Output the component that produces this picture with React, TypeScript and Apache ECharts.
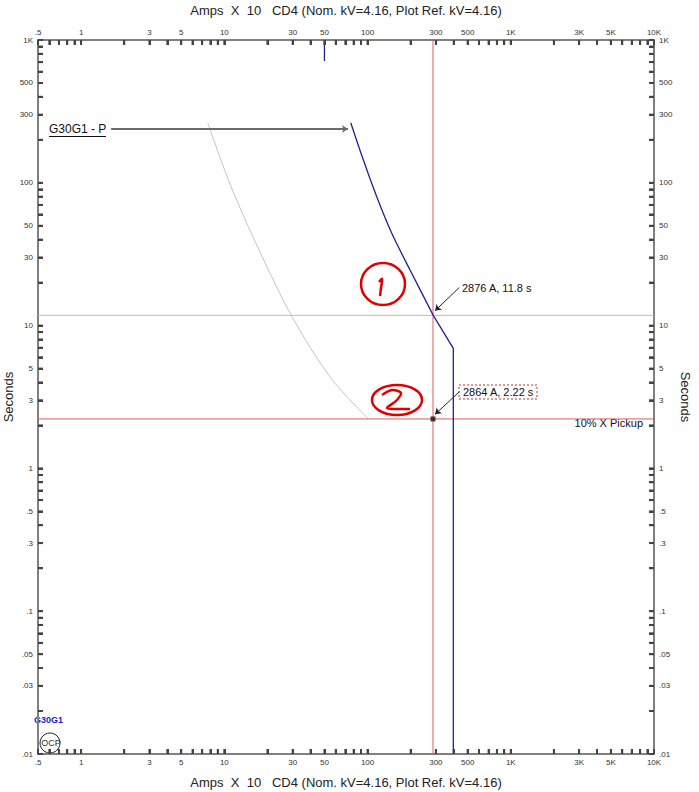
import * as echarts from 'echarts';
import React, { useEffect, useRef } from 'react';

// axis tick labels (amps x 10, seconds)
const X_LABELS = [0.5, 1, 3, 5, 10, 30, 50, 100, 300, 500, 1000, 3000, 5000, 10000];
const Y_LABELS = [0.01, 0.03, 0.05, 0.1, 0.3, 0.5, 1, 3, 5, 10, 30, 50, 100, 300, 500, 1000];
const MANTISSAS = [1, 2, 3, 4, 5, 6, 7, 8, 9];
const X_DECADES = [0.1, 1, 10, 100, 1000, 10000];
const Y_DECADES = [0.01, 0.1, 1, 10, 100, 1000];

// G30G1 - P relay curve (inverse part, then definite/instantaneous tail)
const RELAY_AMPS = [76.3, 93.5, 115.9, 147.6, 198, 287.6];
const RELAY_SECS = [263.6, 144.4, 79.9, 44.3, 24.5, 11.8];
const TAIL_AMPS = [287.6, 397, 397];
const TAIL_SECS = [11.8, 6.93, 0.01];

// short blue mark at the top
const TOP_MARK_AMPS = [50, 50];
const TOP_MARK_SECS = [1000, 713];

// light gray curve
const GRAY_AMPS = [7.66, 10.67, 14.71, 21.4, 28.8, 40.8, 59.3, 101.3];
const GRAY_SECS = [263.6, 104.6, 49.3, 22.0, 12.2, 6.75, 3.94, 2.22];

// cursor lines / point
const CURSOR_AMPS = [286.4, 286.4];
const CURSOR_SECS = [0.01, 1000];
const SPAN_AMPS = [0.5, 10000];
const PICKUP_SECS = [2.22, 2.22];
const OPERATE_SECS = [11.8, 11.8];
const POINT_AMPS = [286.4];
const POINT_SECS = [2.22];

const X_MIN = 0.5;
const X_MAX = 10000;
const Y_MIN = 0.01;
const Y_MAX = 1000;

const ticksFor = (decades: number[], lo: number, hi: number) =>
  decades
    .flatMap((d) => MANTISSAS.map((m) => Number((d * m).toPrecision(6))))
    .filter((v) => v >= lo && v <= hi);

const X_TICKS = ticksFor(X_DECADES, X_MIN, X_MAX);
const Y_TICKS = ticksFor(Y_DECADES, Y_MIN, Y_MAX);

const fmt = (raw: number) => {
  const v = Number(Number(raw).toPrecision(3));
  if (v >= 1000) return v / 1000 + 'K';
  if (v < 1) return String(v).replace(/^0/, '');
  return String(v);
};

const pairs = (xs: number[], ys: number[]) => xs.map((x, i) => [x, ys[i]]);

const FONT = 'Liberation Sans, Arial, sans-serif';
const TITLE = 'Amps  X  10   CD4 (Nom. kV=4.16, Plot Ref. kV=4.16)';
const TICK_COLOR = '#444444';

const App: React.FC = () => {
  const chartRef = useRef<HTMLDivElement>(null);

  useEffect(() => {
    if (!chartRef.current) return;
    const chart = echarts.init(chartRef.current, null, { renderer: 'svg' });

    const xAxis = (position: string, gap: number) => ({
      type: 'log',
      logBase: 10,
      min: X_MIN,
      max: X_MAX,
      position,
      name: TITLE,
      nameLocation: 'middle',
      nameGap: gap,
      nameTextStyle: { fontSize: 13, color: '#222', fontFamily: FONT },
      axisLine: { show: true, lineStyle: { color: '#808080', width: 2 } },
      axisTick: {
        show: true,
        inside: true,
        length: 5,
        customValues: X_TICKS,
        lineStyle: { color: TICK_COLOR, width: 2 },
      },
      axisLabel: {
        customValues: X_LABELS,
        formatter: fmt,
        fontSize: 8,
        color: '#333',
        fontFamily: FONT,
        margin: 4,
      },
      splitLine: { show: false },
      minorTick: { show: false },
    });

    const yAxis = (position: string, rotate: number, gap: number) => ({
      type: 'log',
      logBase: 10,
      min: Y_MIN,
      max: Y_MAX,
      position,
      name: 'Seconds',
      nameLocation: 'middle',
      nameRotate: rotate,
      nameGap: gap,
      nameMoveOverlap: false,
      nameTextStyle: { fontSize: 13, color: '#222', fontFamily: FONT },
      axisLine: { show: true, lineStyle: { color: '#808080', width: 2 } },
      axisTick: {
        show: true,
        inside: true,
        length: 5,
        customValues: Y_TICKS,
        lineStyle: { color: TICK_COLOR, width: 2 },
      },
      axisLabel: {
        customValues: Y_LABELS,
        formatter: fmt,
        fontSize: 8,
        color: '#333',
        fontFamily: FONT,
        margin: 5,
      },
      splitLine: { show: false },
      minorTick: { show: false },
    });

    const red = '#dd5c5c';
    const straight = (name: string, data: number[][], color: string, z = 3) => ({
      type: 'line',
      name,
      data,
      showSymbol: false,
      silent: true,
      lineStyle: { color, width: 1 },
      z,
    });

    // inside tick marks also drawn as small rects through the log scales
    const ticks = (name: string, data: number[][], size: number[], offset: number[]) => ({
      type: 'scatter',
      name,
      data,
      symbol: 'rect',
      symbolSize: size,
      symbolOffset: offset,
      silent: true,
      clip: false,
      itemStyle: { color: TICK_COLOR, opacity: 1 },
      z: 10,
    });

    chart.setOption({
      animation: false,
      backgroundColor: '#fff',
      grid: {
        left: 38,
        top: 40,
        width: 616,
        height: 714,
        containLabel: false,
        outerBoundsMode: 'none',
      },
      xAxis: [xAxis('bottom', 22), xAxis('top', 23)],
      yAxis: [yAxis('left', 90, 23), yAxis('right', -90, 25)],
      series: [
        ticks('x ticks top', X_TICKS.map((v) => [v, Y_MAX]), [2, 5], [0, 2.5]),
        ticks('x ticks bottom', X_TICKS.map((v) => [v, Y_MIN]), [2, 5], [0, -2.5]),
        ticks('y ticks left', Y_TICKS.map((v) => [X_MIN, v]), [5, 2], [2.5, 0]),
        ticks('y ticks right', Y_TICKS.map((v) => [X_MAX, v]), [5, 2], [-2.5, 0]),
        {
          type: 'line',
          name: 'gray',
          data: pairs(GRAY_AMPS, GRAY_SECS),
          showSymbol: false,
          smooth: 0.3,
          lineStyle: { color: '#c4c4c4', width: 1 },
          z: 2,
        },
        straight('operate', pairs(SPAN_AMPS, OPERATE_SECS), '#b8b8b8'),
        straight('pickup', pairs(SPAN_AMPS, PICKUP_SECS), red),
        straight('cursor', pairs(CURSOR_AMPS, CURSOR_SECS), red),
        {
          type: 'line',
          name: 'G30G1 - P',
          data: pairs(RELAY_AMPS, RELAY_SECS),
          showSymbol: false,
          smooth: 0.3,
          lineStyle: { color: '#22228c', width: 1.3 },
          z: 4,
          markLine: {
            silent: true,
            symbol: ['none', 'arrow'],
            symbolSize: 6,
            label: { show: false },
            lineStyle: { color: '#222', width: 1, type: 'solid' },
            data: [
              [{ coord: [437.5, 18.5] }, { coord: [296, 12.7] }],
              [{ coord: [437.5, 3.44] }, { coord: [296, 2.39] }],
              [
                { coord: [1.62, 238], lineStyle: { color: '#6a6a6a', width: 2 } },
                { coord: [73, 238] },
              ],
            ],
          },
        },
        {
          type: 'line',
          name: 'tail',
          data: pairs(TAIL_AMPS, TAIL_SECS),
          showSymbol: false,
          lineStyle: { color: '#22228c', width: 1.3 },
          z: 4,
        },
        {
          type: 'line',
          name: 'top mark',
          data: pairs(TOP_MARK_AMPS, TOP_MARK_SECS),
          showSymbol: false,
          lineStyle: { color: '#22228c', width: 1.3 },
        },
        {
          type: 'scatter',
          name: 'point',
          data: pairs(POINT_AMPS, POINT_SECS),
          symbol: 'rect',
          symbolSize: 5,
          itemStyle: { color: '#111' },
          z: 6,
        },
      ],
      graphic: [
        {
          type: 'text',
          x: 462,
          y: 288,
          style: { text: '2876 A, 11.8 s', font: `11px ${FONT}`, fill: '#111', textVerticalAlign: 'middle' },
        },
        {
          type: 'rect',
          shape: { x: 459, y: 385, width: 78, height: 14 },
          style: { fill: 'none', stroke: '#c03030', lineWidth: 1, lineDash: [2, 2] },
        },
        {
          type: 'text',
          x: 463,
          y: 392,
          style: { text: '2864 A, 2.22 s', font: `11px ${FONT}`, fill: '#111', textVerticalAlign: 'middle' },
        },
        {
          type: 'text',
          x: 643,
          y: 423,
          style: {
            text: '10% X Pickup',
            font: `11px ${FONT}`,
            fill: '#111',
            textAlign: 'right',
            textVerticalAlign: 'middle',
          },
        },
        {
          type: 'text',
          x: 49,
          y: 129,
          style: { text: 'G30G1 - P', font: `12px ${FONT}`, fill: '#111', textVerticalAlign: 'middle' },
        },
        {
          type: 'line',
          shape: { x1: 49, y1: 136.5, x2: 106, y2: 136.5 },
          style: { stroke: '#111', lineWidth: 1 },
        },
        {
          type: 'text',
          x: 34,
          y: 720,
          style: { text: 'G30G1', font: `bold 9px ${FONT}`, fill: '#1a1ad0', textVerticalAlign: 'middle' },
        },
        {
          type: 'circle',
          shape: { cx: 50, cy: 743, r: 10 },
          style: { fill: '#fff', stroke: '#222', lineWidth: 1 },
        },
        {
          type: 'text',
          x: 51,
          y: 743,
          style: {
            text: 'OCP',
            font: `9px ${FONT}`,
            fill: '#333',
            textAlign: 'center',
            textVerticalAlign: 'middle',
          },
        },
        // hand-drawn red marks
        {
          type: 'ellipse',
          shape: { cx: 383, cy: 284, rx: 22, ry: 21 },
          style: { fill: 'none', stroke: '#e00000', lineWidth: 2.5 },
        },
        {
          type: 'polyline',
          shape: { points: [[379, 282], [382, 279], [381, 288], [380, 296]], smooth: 0.4 },
          style: { fill: 'none', stroke: '#e00000', lineWidth: 2.5 },
        },
        {
          type: 'ellipse',
          shape: { cx: 397, cy: 400, rx: 25, ry: 15 },
          style: { fill: 'none', stroke: '#e00000', lineWidth: 2.5 },
        },
        {
          type: 'polyline',
          shape: {
            points: [[382, 395], [392, 390], [401, 393], [396, 401], [387, 408], [399, 409], [410, 409]],
            smooth: 0.3,
          },
          style: { fill: 'none', stroke: '#e00000', lineWidth: 2.5 },
        },
      ],
    });

    return () => {
      chart.dispose();
    };
  }, []);

  return (
    <div
      ref={chartRef}
      style={{ position: 'fixed', left: 0, top: 0, width: 699, height: 792, background: '#fff' }}
    ></div>
  );
};

export default App;
